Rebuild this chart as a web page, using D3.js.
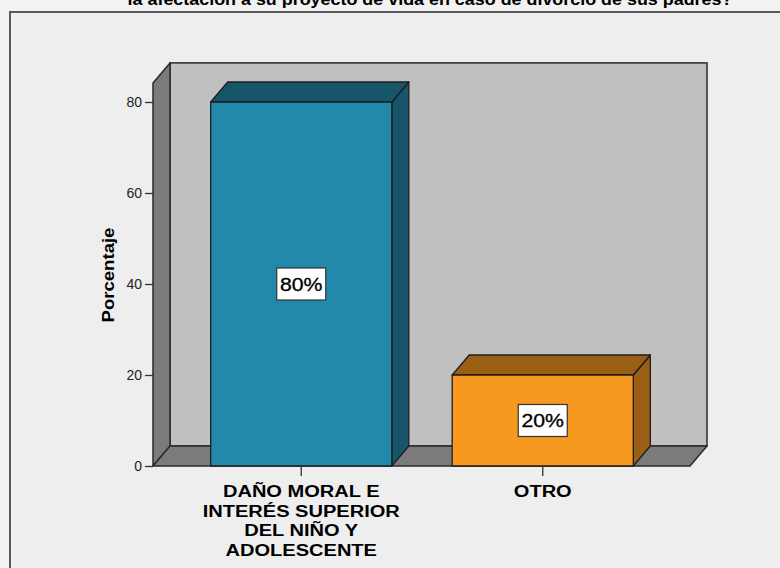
<!DOCTYPE html>
<html>
<head>
<meta charset="utf-8">
<script src="https://cdn.jsdelivr.net/npm/d3@7"></script>
<style>
  html, body { margin: 0; padding: 0; background: #f2f2f2; }
  svg { display: block; }
  text { font-family: "Liberation Sans", Arial, sans-serif; }
</style>
</head>
<body>
<svg id="chart" width="780" height="568"></svg>
<script>
// ---- data ----
const titleText = "la afectación a su proyecto de vida en caso de divorcio de sus padres?";
const categories = ["DAÑO MORAL E INTERÉS SUPERIOR DEL NIÑO Y ADOLESCENTE", "OTRO"];
const categoryLines = [["DAÑO MORAL E", "INTERÉS SUPERIOR", "DEL NIÑO Y", "ADOLESCENTE"], ["OTRO"]];
const values = [80, 20];
const valueLabels = ["80%", "20%"];
const yTicks = [0, 20, 40, 60, 80];
const yTitle = "Porcentaje";
const frontColors = ["#2389ab", "#f7991f"];
const darkColors = ["#17566a", "#9a5e14"];

// ---- layout ----
const svg = d3.select("#chart");
const DX = 17, DY = 20;     // 3D depth offset
const stretch = 1.18;       // horizontal text stretch seen in reference

const y = d3.scaleLinear().domain([0, 80]).range([466, 102]);
const yMax = 84.2;
const x = d3.scaleBand().domain(categories).range([180.5, 663.5])
  .paddingInner(0.25).paddingOuter(0.125);
const xLeft = 153, xRight = 690;

// frame
svg.append("rect").attr("x", 10).attr("y", 12).attr("width", 800).attr("height", 600)
  .attr("fill", "#eeeeee").attr("stroke", "#5a5a5a").attr("stroke-width", 2);

// title (partially cut at top, as in the reference)
svg.append("text")
  .attr("transform", `translate(430,5) scale(1.12,1)`)
  .attr("text-anchor", "middle").attr("font-size", 16).attr("font-weight", "bold")
  .attr("fill", "#000").text(titleText);

const y0 = y(0), yT = y(yMax);
const wallStroke = "#2a2a2a";
// back wall
svg.append("rect").attr("x", xLeft + DX).attr("y", yT - DY)
  .attr("width", xRight - xLeft).attr("height", y0 - yT)
  .attr("fill", "#c0c0c0").attr("stroke", wallStroke).attr("stroke-width", 1.5);
// left wall
svg.append("polygon")
  .attr("points", [[xLeft, y0], [xLeft, yT], [xLeft + DX, yT - DY], [xLeft + DX, y0 - DY]].join(" "))
  .attr("fill", "#7b7b7b").attr("stroke", wallStroke).attr("stroke-width", 1.5).attr("stroke-linejoin", "round");
// floor
svg.append("polygon")
  .attr("points", [[xLeft, y0], [xLeft + DX, y0 - DY], [xRight + DX, y0 - DY], [xRight, y0]].join(" "))
  .attr("fill", "#7b7b7b").attr("stroke", wallStroke).attr("stroke-width", 1.5).attr("stroke-linejoin", "round");

// bars
const bars = svg.append("g");
categories.forEach((c, i) => {
  const x0 = x(c), x1 = x(c) + x.bandwidth(), yt = y(values[i]);
  const g = bars.append("g").attr("stroke", "#1e1e1e").attr("stroke-width", 1.3).attr("stroke-linejoin", "round");
  g.append("polygon")
    .attr("points", [[x1, yt], [x1 + DX, yt - DY], [x1 + DX, y0 - DY], [x1, y0]].join(" "))
    .attr("fill", darkColors[i]);
  g.append("polygon")
    .attr("points", [[x0, yt], [x0 + DX, yt - DY], [x1 + DX, yt - DY], [x1, yt]].join(" "))
    .attr("fill", darkColors[i]);
  g.append("rect").attr("x", x0).attr("y", yt).attr("width", x1 - x0).attr("height", y0 - yt)
    .attr("fill", frontColors[i]);

  // value label box
  const cx = x0 + x.bandwidth() / 2, cy = (yt + y0) / 2;
  bars.append("rect").attr("x", cx - 24.5).attr("y", cy - 16).attr("width", 49).attr("height", 32)
    .attr("fill", "#ffffff").attr("stroke", "#333").attr("stroke-width", 1.2);
  bars.append("text")
    .attr("transform", `translate(${cx},${cy + 6.5}) scale(${stretch},1)`)
    .attr("text-anchor", "middle").attr("font-size", 18).attr("fill", "#000")
    .attr("stroke", "#000").attr("stroke-width", 0.3)
    .text(valueLabels[i]);
});

// y axis
const yAxis = d3.axisLeft(y).tickValues(yTicks).tickSize(8).tickPadding(3);
const ga = svg.append("g").attr("transform", `translate(${xLeft},0)`).call(yAxis);
ga.select(".domain").remove();
ga.selectAll(".tick line").attr("stroke", "#333").attr("stroke-width", 1.3);
ga.selectAll(".tick text").attr("font-size", 14).attr("fill", "#222")
  .attr("font-family", "Liberation Sans, Arial, sans-serif");

// x axis ticks
const xAxis = d3.axisBottom(x).tickSize(10).tickFormat("");
const gx = svg.append("g").attr("transform", `translate(0,${y0})`).call(xAxis);
gx.select(".domain").remove();
gx.selectAll(".tick line").attr("stroke", "#333").attr("stroke-width", 1.3);

// category labels
categories.forEach((c, i) => {
  const cx = x(c) + x.bandwidth() / 2;
  categoryLines[i].forEach((line, j) => {
    svg.append("text")
      .attr("transform", `translate(${cx},${497 + j * 19.6}) scale(${stretch},1)`)
      .attr("text-anchor", "middle").attr("font-size", 17).attr("font-weight", "bold")
      .attr("fill", "#000").text(line);
  });
});

// y title
svg.append("text")
  .attr("transform", `translate(114,275) rotate(-90) scale(1.16,1)`)
  .attr("text-anchor", "middle").attr("font-size", 16).attr("font-weight", "bold")
  .attr("fill", "#000").text(yTitle);
</script>
</body>
</html>
